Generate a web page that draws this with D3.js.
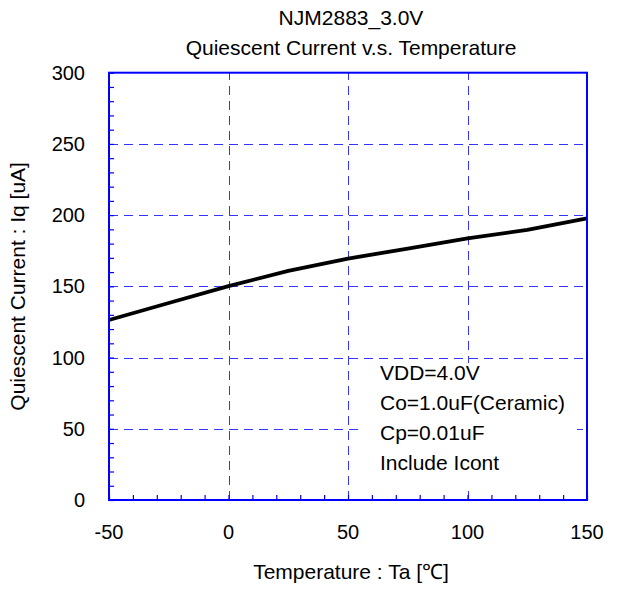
<!DOCTYPE html>
<html><head><meta charset="utf-8">
<script src="https://cdn.jsdelivr.net/npm/d3@7"></script>
<style>body{margin:0;background:#fff}svg{display:block}text{font-family:"Liberation Sans",Arial,sans-serif;fill:#000}</style>
</head><body>
<script>
const temps = [-50, -25, 0, 25, 50, 75, 100, 125, 150];
const iq = [126.4, 138.3, 150.2, 160.8, 169.5, 176.5, 183.7, 189.6, 197.8];
const xTicks = [-50, 0, 50, 100, 150];
const yTicks = [0, 50, 100, 150, 200, 250, 300];
const titleLines = ["NJM2883_3.0V", "Quiescent Current v.s. Temperature"];
const noteLines = ["VDD=4.0V", "Co=1.0uF(Ceramic)", "Cp=0.01uF", "Include Icont"];
const xTitle = "Temperature : Ta [℃]";
const yTitle = "Quiescent Current : Iq [uA]";

const W = 621, H = 589;
const L = 109, R = 587, T = 72.7, B = 500;
const blue = "#0000ff", gridBlue = "#3434ff";
const fs = 20, fsBig = 21;
const snap = v => Math.round(v) + 0.5;

const svg = d3.select("body").append("svg").attr("width", W).attr("height", H);
const x = d3.scaleLinear().domain([-50, 150]).range([L, R]);
const y = d3.scaleLinear().domain([0, 300]).range([B, T]);

// gridlines
const g = svg.append("g");
g.selectAll(".hg").data(yTicks.filter(v => v > 0 && v < 300)).join("line")
  .attr("x1", L).attr("x2", R).attr("y1", d => snap(y(d))).attr("y2", d => snap(y(d)))
  .attr("stroke", gridBlue).attr("stroke-width", 1).attr("stroke-dasharray", "9,6");
g.selectAll(".vg").data(xTicks.filter(v => v > -50 && v < 150)).join("line")
  .attr("y1", B).attr("y2", T).attr("x1", d => snap(x(d))).attr("x2", d => snap(x(d)))
  .attr("stroke", gridBlue).attr("stroke-width", 1).attr("stroke-dasharray", "9,6");

// minor ticks (inside)
const xAxis = d3.axisBottom(x).tickValues(d3.range(-50, 151, 10)).tickSize(-5).tickFormat("");
svg.append("g").attr("transform", `translate(0,${B})`).call(xAxis)
  .call(s => s.select(".domain").remove())
  .call(s => s.selectAll("line").attr("stroke", blue).attr("stroke-width", 1.2));
const yAxis = d3.axisLeft(y).tickValues(d3.range(0, 301, 10)).tickSize(-5).tickFormat("");
svg.append("g").attr("transform", `translate(${L},0)`).call(yAxis)
  .call(s => s.select(".domain").remove())
  .call(s => s.selectAll("line").attr("stroke", blue).attr("stroke-width", 1.2));

// data line
svg.append("path").datum(temps.map((t, i) => [t, iq[i]]))
  .attr("d", d3.line().x(d => x(d[0])).y(d => y(d[1])))
  .attr("fill", "none").attr("stroke", "#000").attr("stroke-width", 3.8).attr("stroke-linejoin", "round");

// note box
svg.append("rect").attr("x", 363).attr("y", 363).attr("width", 214).attr("height", 124).attr("fill", "#fff");
svg.append("g").selectAll("text").data(noteLines).join("text")
  .attr("x", 380).attr("y", (d, i) => 380 + i * 30).attr("font-size", fsBig).text(d => d);

// frame
svg.append("rect").attr("x", L).attr("y", T).attr("width", R - L).attr("height", B - T)
  .attr("fill", "none").attr("stroke", blue).attr("stroke-width", 2);

// tick labels
svg.append("g").selectAll("text").data(xTicks).join("text")
  .attr("x", d => x(d)).attr("y", 539).attr("text-anchor", "middle").attr("font-size", fs).text(d => d);
svg.append("g").selectAll("text").data(yTicks).join("text")
  .attr("x", 85).attr("y", d => y(d)).attr("dy", "0.35em").attr("text-anchor", "end").attr("font-size", fs).text(d => d);

// titles
svg.append("g").selectAll("text").data(titleLines).join("text")
  .attr("x", 351).attr("y", (d, i) => 25 + i * 30).attr("text-anchor", "middle").attr("font-size", fsBig).text(d => d);
svg.append("text").attr("x", 351).attr("y", 579).attr("text-anchor", "middle").attr("font-size", fsBig).text(xTitle);
svg.append("text").attr("transform", `translate(25,${(T + B) / 2}) rotate(-90)`)
  .attr("text-anchor", "middle").attr("font-size", fsBig).text(yTitle);
</script>
</body></html>
